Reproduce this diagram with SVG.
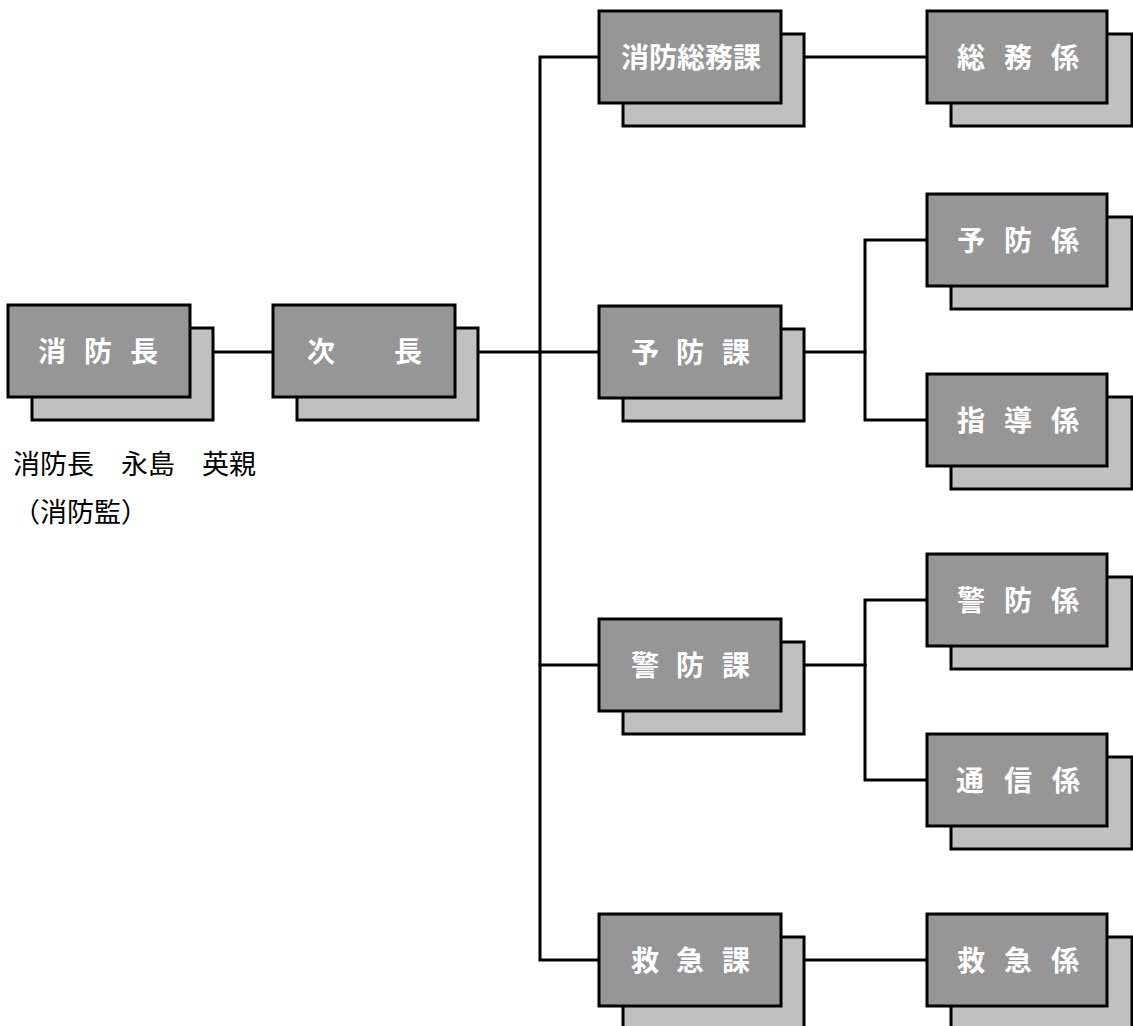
<svg xmlns="http://www.w3.org/2000/svg" width="1133" height="1026" viewBox="0 0 1133 1026">
<style>
.bg{fill:#ffffff}
.sh{fill:#c0c0c0;stroke:#000;stroke-width:3}
.fr{fill:#969696;stroke:#000;stroke-width:3}
.lb{fill:#ffffff;font-family:"Noto Sans CJK JP","Noto Sans CJK SC",sans-serif;font-weight:bold;font-size:28px;text-anchor:middle}
.cn{fill:none;stroke:#000;stroke-width:3;stroke-linejoin:miter;stroke-linecap:square}
.nt{fill:#000;font-family:"Noto Sans CJK JP","Noto Sans CJK SC",sans-serif;font-size:27px}
</style>
<rect class="bg" x="0" y="0" width="1133" height="1026"/>
<g id="connectors">
<path class="cn" d="M213 352 H273"/>
<path class="cn" d="M478 352 H540"/>
<path class="cn" d="M599 57 H540 V960 H599"/>
<path class="cn" d="M540 352 H599"/>
<path class="cn" d="M540 665 H599"/>
<path class="cn" d="M805 57 H927"/>
<path class="cn" d="M805 352 H865"/>
<path class="cn" d="M927 240 H865 V420 H927"/>
<path class="cn" d="M805 665 H865"/>
<path class="cn" d="M927 600 H865 V780 H927"/>
<path class="cn" d="M805 960 H927"/>
</g>
<g id="n-shoubouchou">
<rect class="sh" x="32" y="328" width="181" height="92"/>
<rect class="fr" x="8" y="305" width="182" height="92"/>
<text class="lb" y="362"><tspan x="52">消</tspan><tspan x="98">防</tspan><tspan x="144">長</tspan></text>
</g>
<g id="n-jichou">
<rect class="sh" x="297" y="328" width="181" height="92"/>
<rect class="fr" x="273" y="305" width="182" height="92"/>
<text class="lb" y="362"><tspan x="321">次</tspan><tspan x="408">長</tspan></text>
</g>
<g id="n-soumuka">
<rect class="sh" x="623" y="34" width="181" height="92"/>
<rect class="fr" x="599" y="11" width="182" height="92"/>
<text class="lb" x="691" y="68">消防総務課</text>
</g>
<g id="n-soumugakari">
<rect class="sh" x="951" y="34" width="181" height="92"/>
<rect class="fr" x="927" y="11" width="180" height="92"/>
<text class="lb" y="68"><tspan x="971">総</tspan><tspan x="1018">務</tspan><tspan x="1065">係</tspan></text>
</g>
<g id="n-yobouka">
<rect class="sh" x="623" y="329" width="181" height="92"/>
<rect class="fr" x="599" y="306" width="182" height="92"/>
<text class="lb" y="363"><tspan x="645">予</tspan><tspan x="690">防</tspan><tspan x="736">課</tspan></text>
</g>
<g id="n-yobougakari">
<rect class="sh" x="951" y="217" width="181" height="92"/>
<rect class="fr" x="927" y="194" width="180" height="92"/>
<text class="lb" y="251"><tspan x="971">予</tspan><tspan x="1018">防</tspan><tspan x="1065">係</tspan></text>
</g>
<g id="n-shidougakari">
<rect class="sh" x="951" y="397" width="181" height="92"/>
<rect class="fr" x="927" y="374" width="180" height="92"/>
<text class="lb" y="431"><tspan x="971">指</tspan><tspan x="1018">導</tspan><tspan x="1065">係</tspan></text>
</g>
<g id="n-keibouka">
<rect class="sh" x="623" y="642" width="181" height="92"/>
<rect class="fr" x="599" y="619" width="182" height="92"/>
<text class="lb" y="676"><tspan x="645">警</tspan><tspan x="690">防</tspan><tspan x="736">課</tspan></text>
</g>
<g id="n-keibougakari">
<rect class="sh" x="951" y="577" width="181" height="92"/>
<rect class="fr" x="927" y="554" width="180" height="92"/>
<text class="lb" y="611"><tspan x="971">警</tspan><tspan x="1018">防</tspan><tspan x="1065">係</tspan></text>
</g>
<g id="n-tsuushingakari">
<rect class="sh" x="951" y="757" width="181" height="92"/>
<rect class="fr" x="927" y="734" width="180" height="92"/>
<text class="lb" y="791"><tspan x="970">通</tspan><tspan x="1018">信</tspan><tspan x="1066">係</tspan></text>
</g>
<g id="n-kyuukyuuka">
<rect class="sh" x="623" y="937" width="181" height="92"/>
<rect class="fr" x="599" y="914" width="182" height="92"/>
<text class="lb" y="971"><tspan x="645">救</tspan><tspan x="690">急</tspan><tspan x="736">課</tspan></text>
</g>
<g id="n-kyuukyuugakari">
<rect class="sh" x="951" y="937" width="181" height="92"/>
<rect class="fr" x="927" y="914" width="180" height="92"/>
<text class="lb" y="971"><tspan x="971">救</tspan><tspan x="1018">急</tspan><tspan x="1065">係</tspan></text>
</g>
<g id="chief-note">
<text class="nt" x="13" y="474">消防長　永島　英親</text>
<text class="nt" x="13" y="522">（消防監）</text>
</g>
</svg>
